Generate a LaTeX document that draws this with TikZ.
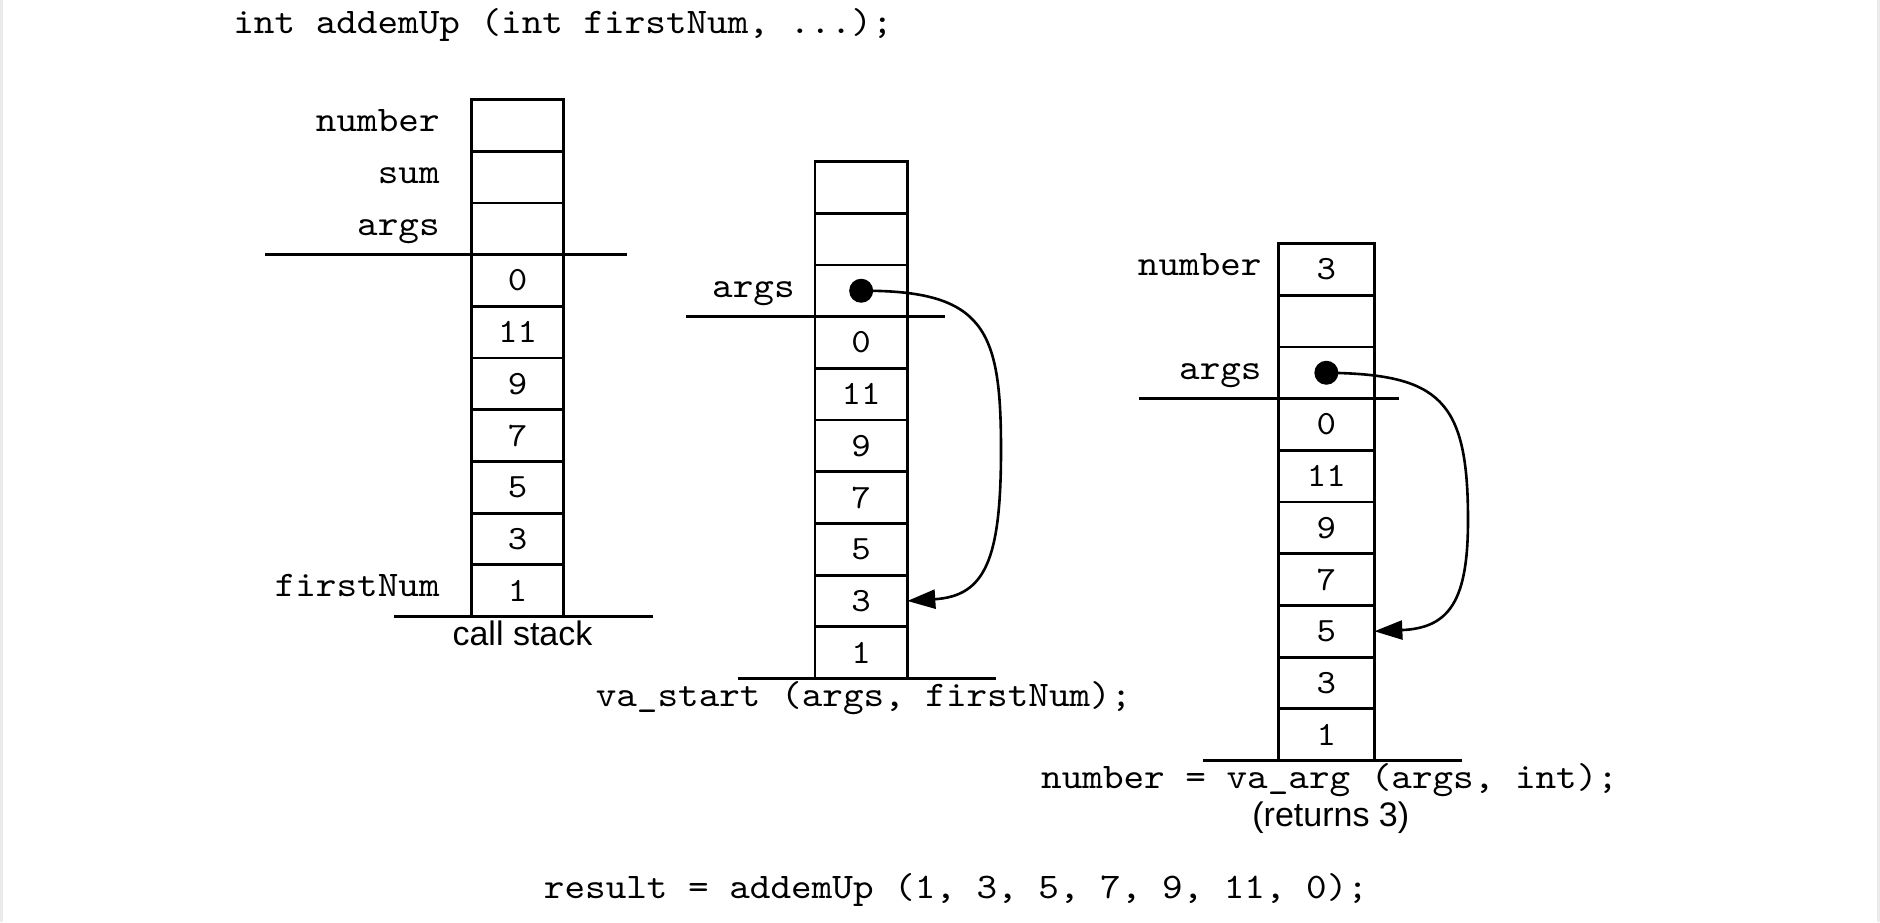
\documentclass[tikz,border=0pt]{standalone}
\usepackage{fontspec}
\setmainfont{Liberation Sans}
\newfontfamily\codefont{lmmono10-regular.otf}[FakeStretch=1.09]
\usetikzlibrary{arrows.meta,calc}
\definecolor{edgegray}{HTML}{EBEBEB}

\begin{document}
\begin{tikzpicture}[x=0.5pt,y=-0.5pt,
  cell/.style={draw, line width=1.4pt, rectangle, inner sep=0pt, outer sep=0pt,
    minimum height=25.85pt, font=\codefont\fontsize{17}{17}\selectfont},
  lbl/.style={anchor=base east, inner sep=0pt, font=\codefont\fontsize{18}{18}\selectfont},
  code/.style={anchor=base, inner sep=0pt, font=\codefont\fontsize{18}{18}\selectfont},
  caption/.style={anchor=base, inner sep=0pt, font=\fontsize{17}{17}\selectfont},
  rule/.style={line width=1.15pt},
  ptr/.style={line width=1.3pt, -{Triangle[length=14pt,width=9.5pt]}},
  dotnode/.style={circle, fill, inner sep=0pt, minimum size=12pt}
]
% page and side strips
\fill[white] (0,0) rectangle (1880,922);
\fill[edgegray] (0,0) rectangle (2.7,922);
\fill[edgegray] (1877,0) rectangle (1880,922);
\useasboundingbox (0,0) rectangle (1880,922);

% call stack
\foreach \v [count=\i from 0] in {{},{},{},0,11,9,7,5,3,1}
  \node[cell, minimum width=45.8pt] (a\i) at (517.5, 125.35+\i*51.7) {\v};
\draw[rule] ($(a2.south west)+(-206.7,0)$) -- ($(a2.south east)+(63.7,0)$);
\draw[rule] ($(a9.south west)+(-77.7,0)$) -- ($(a9.south east)+(89.2,0)$);
\node[lbl] (la0) at ($(a0.west)+(-31.7,6.3)$) {number};
\node[lbl] (la1) at ($(a1.west)+(-31.7,6.3)$) {sum};
\node[lbl] (la2) at ($(a2.west)+(-31.7,6.3)$) {args};
\node[lbl] (la9) at ($(a9.west)+(-31.7,6.3)$) {firstNum};
\node[caption] (cs) at (522.5,645) {call stack};

% after va_start
\foreach \v [count=\i from 0] in {{},{},{},0,11,9,7,5,3,1}
  \node[cell, minimum width=46.15pt] (b\i) at (861.15, 187.35+\i*51.7) {\v};
\draw[rule] ($(b2.south west)+(-129,0)$) -- ($(b2.south east)+(37.2,0)$);
\draw[rule] ($(b9.south west)+(-77.5,0)$) -- ($(b9.south east)+(88.2,0)$);
\node[lbl] (lb2) at ($(b2.west)+(-20,6.3)$) {args};
\node[dotnode] (bd) at (b2.center) {};
\coordinate (bturn) at (1001,450);
\draw[ptr] (bd.center) .. controls (985,290) and (1001,330) .. (bturn)
  .. controls (1001,560) and (985,596) .. (b8.east);
\node[code] (vastart) at (863.6,706) {va\_start (args, firstNum);};

% after va_arg
\foreach \v [count=\i from 0] in {3,{},{},0,11,9,7,5,3,1}
  \node[cell, minimum width=48pt] (c\i) at (1326.35, 269.35+\i*51.7) {\v};
\draw[rule] ($(c2.south west)+(-138.9,0)$) -- ($(c2.south east)+(24.7,0)$);
\draw[rule] ($(c9.south west)+(-75.4,0)$) -- ($(c9.south east)+(87.2,0)$);
\node[lbl] (lc0) at ($(c0.west)+(-16.4,6.3)$) {number};
\node[lbl] (lc2) at ($(c2.west)+(-16.4,6.3)$) {args};
\node[dotnode] (cd) at (c2.center) {};
\coordinate (cturn) at (1468,520);
\draw[ptr] (cd.center) .. controls (1440,374) and (1468,400) .. (cturn)
  .. controls (1468,600) and (1450,628) .. (c7.east);
\node[code] (vaarg) at (1329.6,788.5) {number = va\_arg (args, int);};
\node[caption] (ret) at (1330.8,826) {(returns 3)};

% declaration and call
\node[code] (sig) at (563,33.3) {int addemUp (int firstNum, ...);};
\node[code] (call) at (956,898.3) {result = addemUp (1, 3, 5, 7, 9, 11, 0);};
\end{tikzpicture}
\end{document}
